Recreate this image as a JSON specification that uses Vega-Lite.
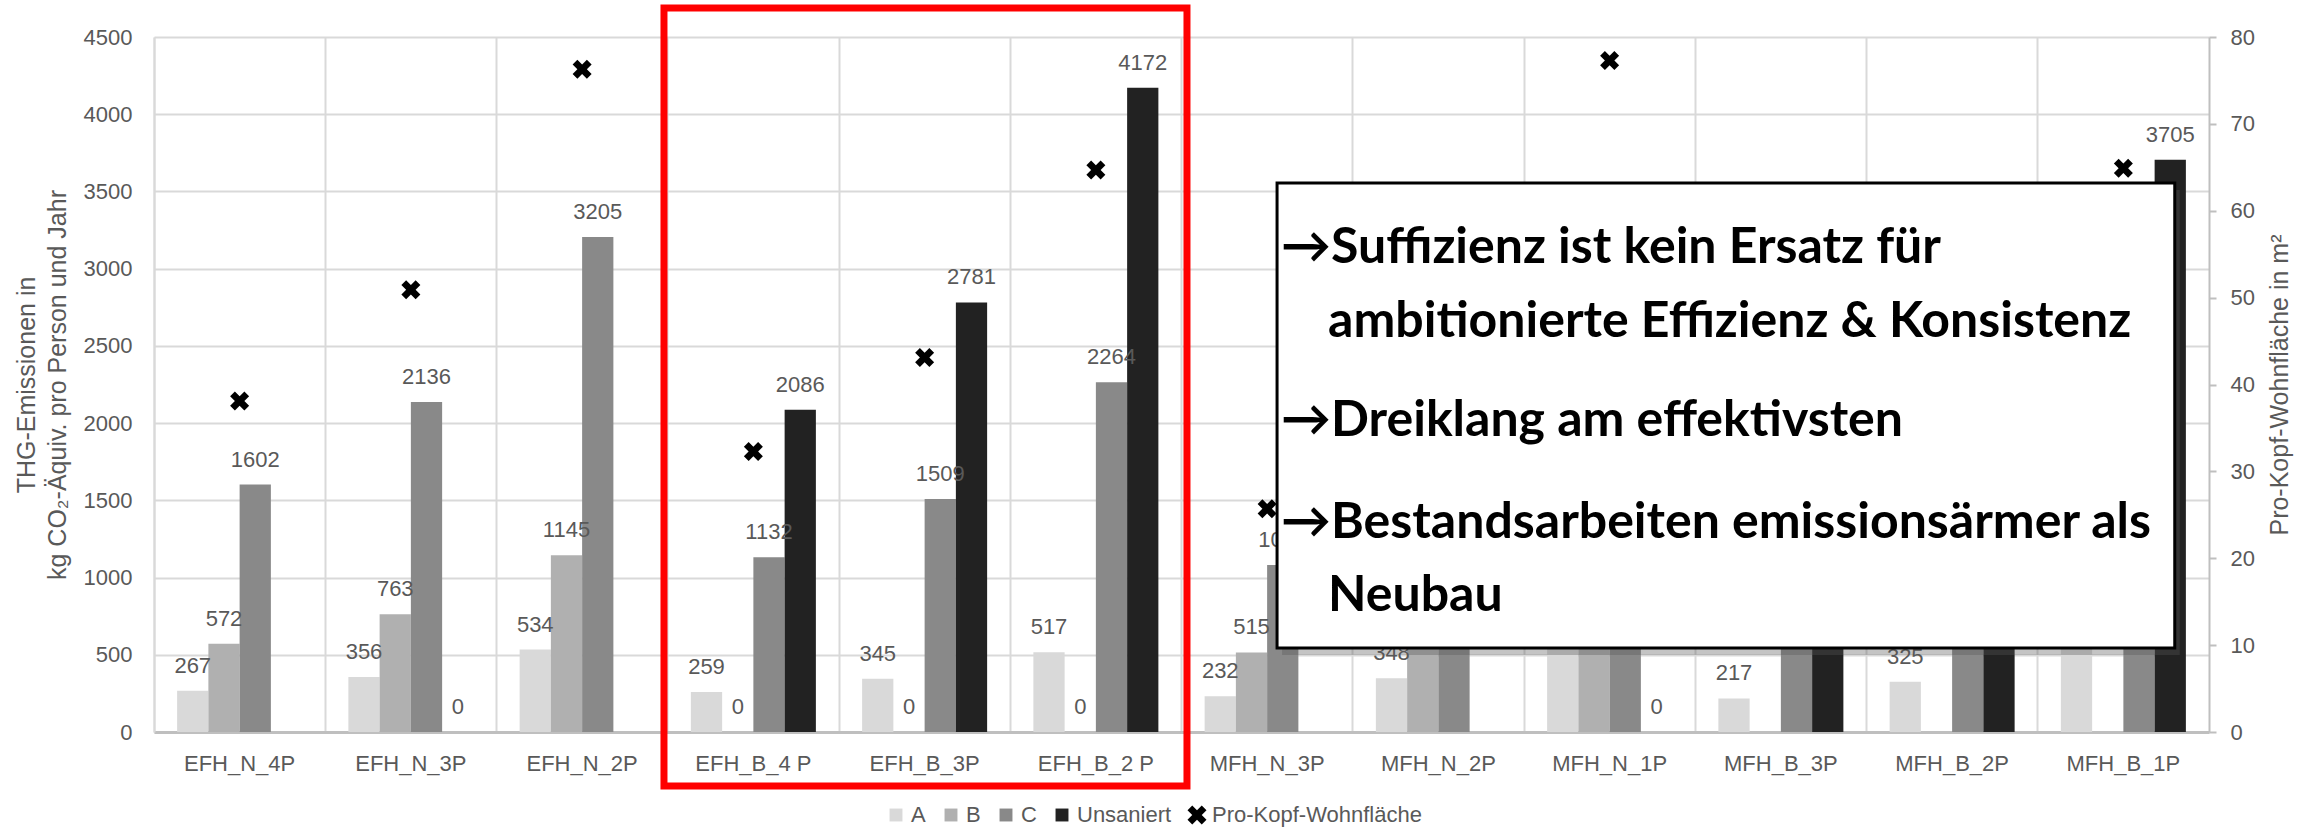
{
  "$schema": "https://vega.github.io/schema/vega-lite/v6.json",
  "width": 2055,
  "height": 695,
  "autosize": "none",
  "padding": {"left": 154, "top": 37, "right": 108, "bottom": 96},
  "background": "white",
  "config": {"view": {"stroke": null}, "font": "Liberation Sans"},
  "datasets": {
    "bars": [
      {"cat": "EFH_N_4P", "series": "A", "value": 267},
      {"cat": "EFH_N_4P", "series": "B", "value": 572},
      {"cat": "EFH_N_4P", "series": "C", "value": 1602},
      {"cat": "EFH_N_4P", "series": "Unsaniert", "value": null},
      {"cat": "EFH_N_3P", "series": "A", "value": 356},
      {"cat": "EFH_N_3P", "series": "B", "value": 763},
      {"cat": "EFH_N_3P", "series": "C", "value": 2136},
      {"cat": "EFH_N_3P", "series": "Unsaniert", "value": 0},
      {"cat": "EFH_N_2P", "series": "A", "value": 534},
      {"cat": "EFH_N_2P", "series": "B", "value": 1145},
      {"cat": "EFH_N_2P", "series": "C", "value": 3205},
      {"cat": "EFH_N_2P", "series": "Unsaniert", "value": null},
      {"cat": "EFH_B_4 P", "series": "A", "value": 259},
      {"cat": "EFH_B_4 P", "series": "B", "value": 0},
      {"cat": "EFH_B_4 P", "series": "C", "value": 1132},
      {"cat": "EFH_B_4 P", "series": "Unsaniert", "value": 2086},
      {"cat": "EFH_B_3P", "series": "A", "value": 345},
      {"cat": "EFH_B_3P", "series": "B", "value": 0},
      {"cat": "EFH_B_3P", "series": "C", "value": 1509},
      {"cat": "EFH_B_3P", "series": "Unsaniert", "value": 2781},
      {"cat": "EFH_B_2 P", "series": "A", "value": 517},
      {"cat": "EFH_B_2 P", "series": "B", "value": 0},
      {"cat": "EFH_B_2 P", "series": "C", "value": 2264},
      {"cat": "EFH_B_2 P", "series": "Unsaniert", "value": 4172},
      {"cat": "MFH_N_3P", "series": "A", "value": 232},
      {"cat": "MFH_N_3P", "series": "B", "value": 515},
      {"cat": "MFH_N_3P", "series": "C", "value": 1081},
      {"cat": "MFH_N_3P", "series": "Unsaniert", "value": null},
      {"cat": "MFH_N_2P", "series": "A", "value": 348},
      {"cat": "MFH_N_2P", "series": "B", "value": 772},
      {"cat": "MFH_N_2P", "series": "C", "value": 1622},
      {"cat": "MFH_N_2P", "series": "Unsaniert", "value": null},
      {"cat": "MFH_N_1P", "series": "A", "value": 696},
      {"cat": "MFH_N_1P", "series": "B", "value": 1545},
      {"cat": "MFH_N_1P", "series": "C", "value": 3243},
      {"cat": "MFH_N_1P", "series": "Unsaniert", "value": 0},
      {"cat": "MFH_B_3P", "series": "A", "value": 217},
      {"cat": "MFH_B_3P", "series": "B", "value": null},
      {"cat": "MFH_B_3P", "series": "C", "value": 671},
      {"cat": "MFH_B_3P", "series": "Unsaniert", "value": 1235},
      {"cat": "MFH_B_2P", "series": "A", "value": 325},
      {"cat": "MFH_B_2P", "series": "B", "value": null},
      {"cat": "MFH_B_2P", "series": "C", "value": 1006},
      {"cat": "MFH_B_2P", "series": "Unsaniert", "value": 1853},
      {"cat": "MFH_B_1P", "series": "A", "value": 650},
      {"cat": "MFH_B_1P", "series": "B", "value": null},
      {"cat": "MFH_B_1P", "series": "C", "value": 2012},
      {"cat": "MFH_B_1P", "series": "Unsaniert", "value": 3705}
    ],
    "area": [
      {"cat": "EFH_N_4P", "series": "Pro-Kopf-Wohnfläche", "area": 38.1},
      {"cat": "EFH_N_3P", "series": "Pro-Kopf-Wohnfläche", "area": 50.9},
      {"cat": "EFH_N_2P", "series": "Pro-Kopf-Wohnfläche", "area": 76.3},
      {"cat": "EFH_B_4 P", "series": "Pro-Kopf-Wohnfläche", "area": 32.3},
      {"cat": "EFH_B_3P", "series": "Pro-Kopf-Wohnfläche", "area": 43.1},
      {"cat": "EFH_B_2 P", "series": "Pro-Kopf-Wohnfläche", "area": 64.7},
      {"cat": "MFH_N_3P", "series": "Pro-Kopf-Wohnfläche", "area": 25.7},
      {"cat": "MFH_N_2P", "series": "Pro-Kopf-Wohnfläche", "area": 38.6},
      {"cat": "MFH_N_1P", "series": "Pro-Kopf-Wohnfläche", "area": 77.3},
      {"cat": "MFH_B_3P", "series": "Pro-Kopf-Wohnfläche", "area": 21.6},
      {"cat": "MFH_B_2P", "series": "Pro-Kopf-Wohnfläche", "area": 32.4},
      {"cat": "MFH_B_1P", "series": "Pro-Kopf-Wohnfläche", "area": 64.9}
    ]
  },
  "resolve": {"scale": {"x": "independent", "y": "independent"}},
  "layer": [
    {
      "resolve": {"scale": {"y": "independent"}},
      "layer": [
        {
          "data": {"name": "bars"},
          "layer": [
            {
              "mark": {"type": "bar"},
              "encoding": {
                "x": {
                  "field": "cat", "type": "nominal", "sort": null,
                  "scale": {"paddingInner": 0, "paddingOuter": 0},
                  "axis": {
                    "title": null, "grid": true, "bandPosition": 0,
                    "gridColor": "#d9d9d9", "gridWidth": 2, "ticks": false,
                    "domainColor": "#bfbfbf", "domainWidth": 3,
                    "labelFontSize": 22, "labelColor": "#595959", "labelPadding": 21, "labelAngle": 0
                  }
                },
                "xOffset": {
                  "field": "series", "type": "nominal",
                  "scale": {"domain": ["A", "B", "C", "Unsaniert"], "paddingInner": 0, "paddingOuter": 0.74}
                },
                "y": {
                  "field": "value", "type": "quantitative",
                  "scale": {"domain": [0, 4500], "nice": false},
                  "axis": {
                    "values": [0, 500, 1000, 1500, 2000, 2500, 3000, 3500, 4000, 4500],
                    "format": "d",
                    "grid": true, "gridColor": "#d9d9d9", "gridWidth": 2, "ticks": false,
                    "domainColor": "#d9d9d9", "domainWidth": 2,
                    "labelPadding": 22, "labelFontSize": 22, "labelColor": "#595959",
                    "title": ["THG-Emissionen in", "kg CO₂-Äquiv. pro Person und Jahr"],
                    "titleFontSize": 25, "titleFontWeight": "normal", "titleColor": "#595959",
                    "titleLineHeight": 31, "titlePadding": 13
                  }
                },
                "color": {
                  "field": "series", "type": "nominal",
                  "scale": {
                    "domain": ["A", "B", "C", "Unsaniert", "Pro-Kopf-Wohnfläche"],
                    "range": ["#d9d9d9", "#b0b0b0", "#898989", "#222222", "#000000"]
                  },
                  "legend": {
                    "orient": "none", "legendX": 731, "legendY": 767, "direction": "horizontal",
                    "title": null, "labelFontSize": 22, "labelColor": "#595959", "labelLimit": 500,
                    "symbolSize": 361, "symbolStrokeWidth": 0, "columnPadding": 14, "labelOffset": 4, "padding": 0
                  }
                }
              }
            },
            {
              "transform": [{"filter": "isValid(datum.value)"}],
              "mark": {"type": "text", "baseline": "middle", "dy": -25, "fontSize": 22, "color": "#595959"},
              "encoding": {
                "x": {"field": "cat", "type": "nominal", "sort": null},
                "xOffset": {"field": "series", "type": "nominal"},
                "y": {"field": "value", "type": "quantitative"},
                "text": {"field": "value", "type": "quantitative"}
              }
            }
          ]
        },
        {
          "data": {"name": "area"},
          "mark": {"type": "point", "filled": true, "size": 361, "opacity": 1, "strokeWidth": 0},
          "encoding": {
            "x": {"field": "cat", "type": "nominal", "sort": null},
            "y": {
              "field": "area", "type": "quantitative",
              "scale": {"domain": [0, 80], "nice": false},
              "axis": {
                "orient": "right",
                "values": [0, 10, 20, 30, 40, 50, 60, 70, 80],
                "grid": false, "ticks": true, "tickSize": 7, "tickColor": "#bfbfbf", "tickWidth": 2,
                "domainColor": "#bfbfbf", "domainWidth": 2,
                "labelPadding": 14, "labelFontSize": 22, "labelColor": "#595959",
                "title": "Pro-Kopf-Wohnfläche in m²", "titleAngle": 270, "titleBaseline": "top",
                "titleFontSize": 25, "titleFontWeight": "normal", "titleColor": "#595959", "titlePadding": 13
              }
            },
            "color": {"field": "series", "type": "nominal"},
            "shape": {
              "field": "series", "type": "nominal",
              "scale": {
                "domain": ["A", "B", "C", "Unsaniert", "Pro-Kopf-Wohnfläche"],
                "range": [
                  "M-0.68,-0.68H0.68V0.68H-0.68Z",
                  "M-0.68,-0.68H0.68V0.68H-0.68Z",
                  "M-0.68,-0.68H0.68V0.68H-0.68Z",
                  "M-0.68,-0.68H0.68V0.68H-0.68Z",
                  "M-1,-0.5L-0.5,-1L0,-0.5L0.5,-1L1,-0.5L0.5,0L1,0.5L0.5,1L0,0.5L-0.5,1L-1,0.5L-0.5,0Z"
                ]
              }
            }
          }
        }
      ]
    },
    {
      "data": {"values": [{}]},
      "layer": [
        {
          "mark": {"type": "rect", "fill": "transparent", "stroke": "#ff0000", "strokeWidth": 7},
          "encoding": {
            "x": {"datum": 2.978, "type": "quantitative", "scale": {"domain": [0, 12], "nice": false, "zero": false}, "axis": null},
            "x2": {"datum": 6.032},
            "y": {"datum": 4688, "type": "quantitative", "scale": {"domain": [0, 4500], "nice": false, "zero": false}, "axis": null},
            "y2": {"datum": -350}
          }
        },
        {
          "mark": {"type": "rect", "fill": "#555555", "opacity": 0.35, "xOffset": 5, "x2Offset": 5, "yOffset": 7, "y2Offset": 7},
          "encoding": {
            "x": {"datum": 6.558, "type": "quantitative"},
            "x2": {"datum": 11.8},
            "y": {"datum": 3555, "type": "quantitative"},
            "y2": {"datum": 544}
          }
        },
        {
          "mark": {"type": "rect", "fill": "white", "stroke": "black", "strokeWidth": 3},
          "encoding": {
            "x": {"datum": 6.558, "type": "quantitative"},
            "x2": {"datum": 11.8},
            "y": {"datum": 3555, "type": "quantitative"},
            "y2": {"datum": 544}
          }
        },
        {
          "mark": {"type": "text", "align": "left", "baseline": "middle", "font": "Lato", "fontWeight": "bold", "fontSize": 50, "color": "black"},
          "encoding": {
            "x": {"datum": 6.581, "type": "quantitative"},
            "y": {"datum": 3134, "type": "quantitative"},
            "text": {"value": "→Suffizienz ist kein Ersatz für"}
          }
        },
        {
          "mark": {"type": "text", "align": "left", "baseline": "middle", "font": "Lato", "fontWeight": "bold", "fontSize": 50, "color": "black"},
          "encoding": {
            "x": {"datum": 6.856, "type": "quantitative"},
            "y": {"datum": 2655, "type": "quantitative"},
            "text": {"value": "ambitionierte Effizienz & Konsistenz"}
          }
        },
        {
          "mark": {"type": "text", "align": "left", "baseline": "middle", "font": "Lato", "fontWeight": "bold", "fontSize": 50, "color": "black"},
          "encoding": {
            "x": {"datum": 6.581, "type": "quantitative"},
            "y": {"datum": 2014, "type": "quantitative"},
            "text": {"value": "→Dreiklang am effektivsten"}
          }
        },
        {
          "mark": {"type": "text", "align": "left", "baseline": "middle", "font": "Lato", "fontWeight": "bold", "fontSize": 50, "color": "black"},
          "encoding": {
            "x": {"datum": 6.581, "type": "quantitative"},
            "y": {"datum": 1353, "type": "quantitative"},
            "text": {"value": "→Bestandsarbeiten emissionsärmer als"}
          }
        },
        {
          "mark": {"type": "text", "align": "left", "baseline": "middle", "font": "Lato", "fontWeight": "bold", "fontSize": 50, "color": "black"},
          "encoding": {
            "x": {"datum": 6.856, "type": "quantitative"},
            "y": {"datum": 881, "type": "quantitative"},
            "text": {"value": "Neubau"}
          }
        }
      ]
    }
  ]
}
